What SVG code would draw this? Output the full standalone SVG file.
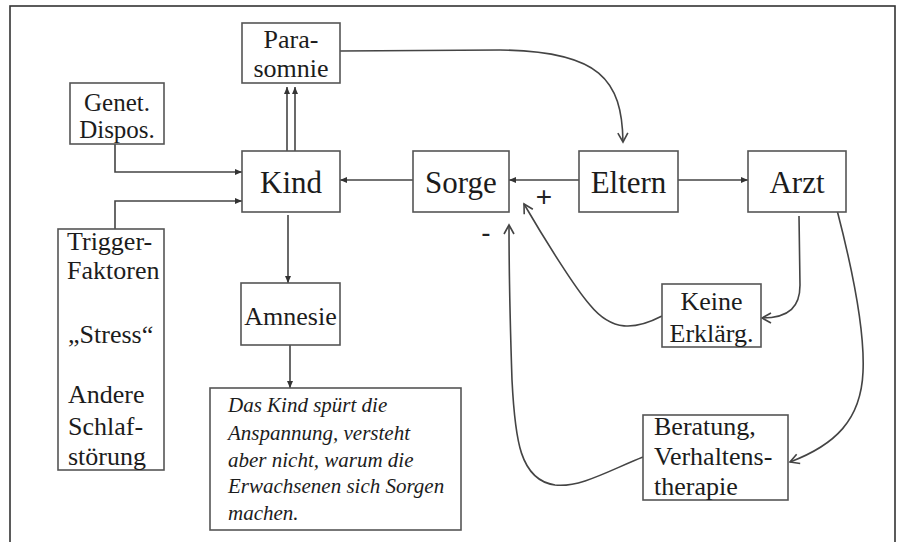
<svg xmlns="http://www.w3.org/2000/svg" width="901" height="542" viewBox="0 0 901 542">
<style>
.box{fill:#fff;stroke:#555;stroke-width:1.6}
.t{font-family:"Liberation Serif","Times New Roman",serif;fill:#1c1c1c;font-size:26px}
.big{font-size:31px}
.sm{font-size:25px}
.it{font-style:italic;font-size:21px}
.c{fill:none;stroke:#444;stroke-width:1.6}
.lbl{font-family:"Liberation Sans",Arial,sans-serif;fill:#222;font-size:28px}
</style>
<defs>
<marker id="tri" markerUnits="userSpaceOnUse" markerWidth="10" markerHeight="10" refX="8" refY="5" orient="auto">
<path d="M1,2 L8,5 L1,8 Z" fill="#333"/>
</marker>
<marker id="vee" markerUnits="userSpaceOnUse" markerWidth="14" markerHeight="14" refX="12" refY="7" orient="auto">
<path d="M3,2 L12,7 L3,12" fill="none" stroke="#444" stroke-width="1.6"/>
</marker>
</defs>
<rect width="901" height="542" fill="#fff"/>
<rect x="10" y="6" width="885" height="580" fill="none" stroke="#333" stroke-width="1.6"/>

<g id="connectors">
<path class="c" d="M340,51 L500,50 C600,51 622,80 623,142" marker-end="url(#vee)"/>
<path class="c" d="M287,151 L287,87" marker-end="url(#tri)"/>
<path class="c" d="M295,151 L295,87" marker-end="url(#tri)"/>
<path class="c" d="M115,144 L115,172 L242,172" marker-end="url(#tri)"/>
<path class="c" d="M115,229 L115,201 L242,201" marker-end="url(#tri)"/>
<path class="c" d="M413,180 L340,180" marker-end="url(#tri)"/>
<path class="c" d="M579,180 L509,180" marker-end="url(#tri)"/>
<path class="c" d="M678,180 L748,180" marker-end="url(#tri)"/>
<path class="c" d="M288,215 L288,283" marker-end="url(#tri)"/>
<path class="c" d="M290,345 L290,388" marker-end="url(#tri)"/>
<path class="c" d="M799,216 L800,285 C800,306 790,318 762,318" marker-end="url(#vee)"/>
<path class="c" d="M837,210 C850,260 865,330 863,372 C861,420 835,445 790,462" marker-end="url(#vee)"/>
<path class="c" d="M662,316 C635,330 612,332 590,305 C575,288 545,240 524,204" marker-end="url(#vee)"/>
<path class="c" d="M643,457 C610,470 580,488 555,485 C520,480 515,440 512,380 C510,320 509,260 509,225" marker-end="url(#vee)"/>
<text class="lbl" x="544" y="206" text-anchor="middle">+</text>
<text class="lbl" x="486" y="242" text-anchor="middle">-</text>
</g>

<g id="parasomnie">
<rect class="box" x="242" y="23" width="98" height="60"/>
<text class="t" x="291" y="48" text-anchor="middle">Para-</text>
<text class="t" x="291" y="77" text-anchor="middle">somnie</text>
</g>
<g id="genet">
<rect class="box" x="70" y="83" width="94" height="61"/>
<text class="t sm" x="117" y="111" text-anchor="middle">Genet.</text>
<text class="t sm" x="117" y="138" text-anchor="middle">Dispos.</text>
</g>
<g id="kind">
<rect class="box" x="242" y="151" width="98" height="61"/>
<text class="t big" x="291" y="193" text-anchor="middle">Kind</text>
</g>
<g id="sorge">
<rect class="box" x="413" y="151" width="96" height="61"/>
<text class="t big" x="461" y="193" text-anchor="middle">Sorge</text>
</g>
<g id="eltern">
<rect class="box" x="579" y="151" width="99" height="61"/>
<text class="t big" x="628.5" y="193" text-anchor="middle">Eltern</text>
</g>
<g id="arzt">
<rect class="box" x="748" y="151" width="98" height="61"/>
<text class="t big" x="797" y="193" text-anchor="middle">Arzt</text>
</g>
<g id="trigger">
<rect class="box" x="58" y="229" width="106" height="241"/>
<text class="t" x="67" y="250">Trigger-</text>
<text class="t" x="67" y="279">Faktoren</text>
<text class="t" x="68" y="343">„Stress“</text>
<text class="t" x="68" y="403">Andere</text>
<text class="t" x="68" y="435">Schlaf-</text>
<text class="t" x="68" y="465">störung</text>
</g>
<g id="amnesie">
<rect class="box" x="241" y="283" width="99" height="62"/>
<text class="t" x="290.5" y="325" text-anchor="middle">Amnesie</text>
</g>
<g id="anspannung">
<rect class="box" x="210" y="388" width="251" height="142"/>
<text class="t it" x="228" y="412">Das Kind spürt die</text>
<text class="t it" x="228" y="440">Anspannung, versteht</text>
<text class="t it" x="228" y="467">aber nicht, warum die</text>
<text class="t it" x="228" y="493">Erwachsenen sich Sorgen</text>
<text class="t it" x="228" y="520">machen.</text>
</g>
<g id="keine">
<rect class="box" x="662" y="284" width="99" height="63"/>
<text class="t" x="711.5" y="310" text-anchor="middle">Keine</text>
<text class="t" x="711.5" y="342" text-anchor="middle">Erklärg.</text>
</g>
<g id="beratung">
<rect class="box" x="643" y="415" width="145" height="85"/>
<text class="t" x="654" y="435">Beratung,</text>
<text class="t" x="654" y="465">Verhaltens-</text>
<text class="t" x="654" y="495">therapie</text>
</g>
</svg>
